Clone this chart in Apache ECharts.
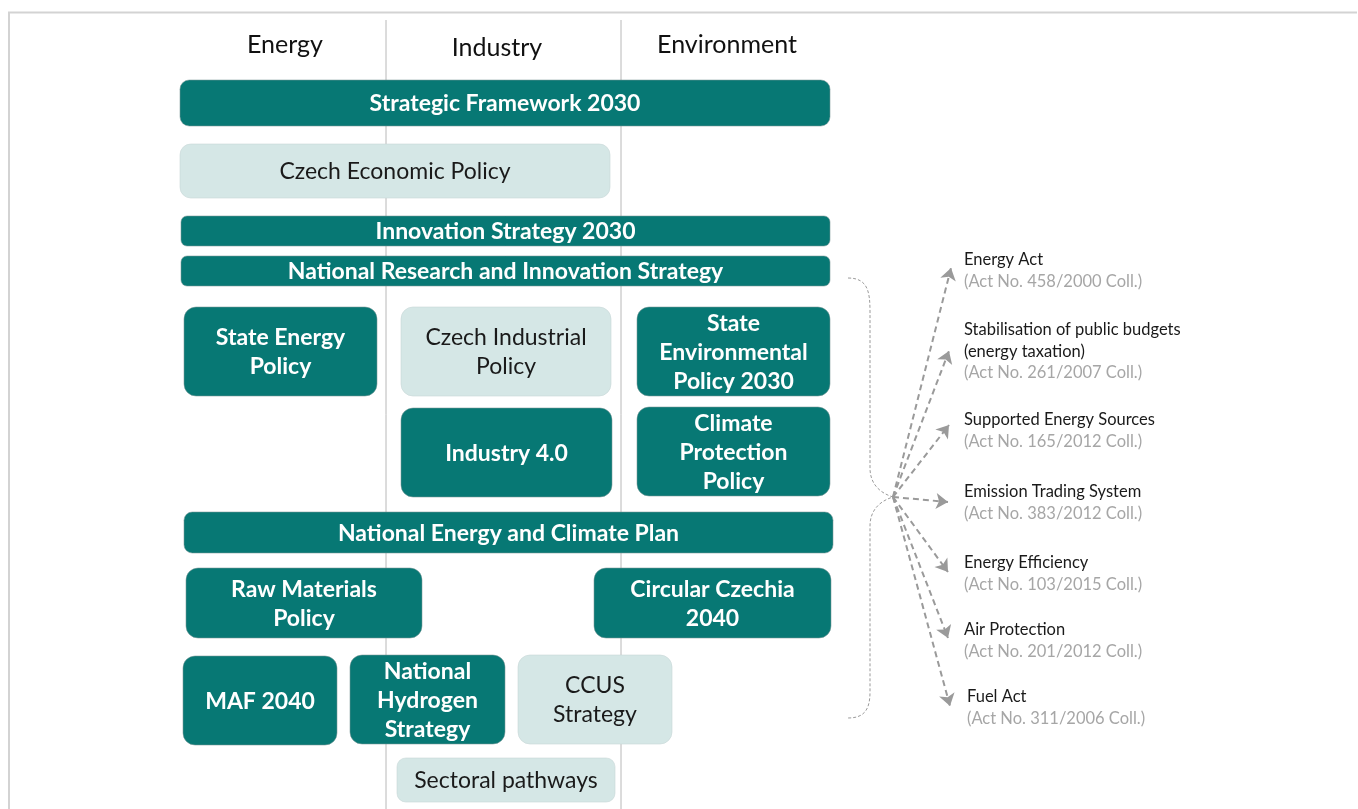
<!DOCTYPE html>
<html><head><meta charset="utf-8">
<script src="https://cdn.jsdelivr.net/npm/echarts@6/dist/echarts.min.js"></script>
<style>html,body{margin:0;padding:0;background:#fff}#c{width:1358px;height:809px}</style>
</head><body><div id="c"></div>
<script>
// ---- diagram content (axis units = page layout units) ----
const columnHeaders = ['Energy', 'Industry', 'Environment'];
const headerX = [285, 497, 727];
const headerY = [45, 48, 45];
const columnDividers = [386, 621];
const dividerTop = 20;
const dividerBottom = 809;

// outer frame (left and top edges only)
const framePoints = [[9, 809], [9, 12.5], [1357, 12.5]];

const boxLabels = [
  'Strategic Framework 2030',
  'Czech Economic Policy',
  'Innovation Strategy 2030',
  'National Research and Innovation Strategy',
  'State Energy\nPolicy',
  'Czech Industrial\nPolicy',
  'State\nEnvironmental\nPolicy 2030',
  'Industry 4.0',
  'Climate\nProtection\nPolicy',
  'National Energy and Climate Plan',
  'Raw Materials\nPolicy',
  'Circular Czechia\n2040',
  'MAF 2040',
  'National\nHydrogen\nStrategy',
  'CCUS\nStrategy',
  'Sectoral pathways'
];
const boxKinds = ['dark','light','dark','dark','dark','light','dark','dark','dark','dark','dark','dark','dark','dark','light','light'];
const boxLeft   = [180, 180, 181, 181, 184, 401, 637, 401, 637, 184, 186, 594, 183, 350, 518, 397];
const boxRight  = [830, 610, 830, 830, 377, 611, 830, 612, 830, 833, 422, 831, 337, 505, 672, 615];
const boxTop    = [ 80, 144, 216, 256, 307, 307, 307, 408, 407, 512, 568, 568, 656, 655, 655, 758];
const boxBottom = [126, 198, 246, 286, 396, 396, 396, 497, 496, 553, 638, 638, 745, 744, 744, 802];

const lawTitles = [
  'Energy Act',
  'Stabilisation of public budgets\n(energy taxation)',
  'Supported Energy Sources',
  'Emission Trading System',
  'Energy Efficiency',
  'Air Protection',
  'Fuel Act'
];
const lawActs = [
  '(Act No. 458/2000 Coll.)',
  '(Act No. 261/2007 Coll.)',
  '(Act No. 165/2012 Coll.)',
  '(Act No. 383/2012 Coll.)',
  '(Act No. 103/2015 Coll.)',
  '(Act No. 201/2012 Coll.)',
  '(Act No. 311/2006 Coll.)'
];
const lawX      = [964, 964, 964, 964, 964, 964, 967];
const lawTitleY = [260, 330, 420, 492, 563, 630, 697];
const arrowOrigin = [893, 497];
const arrowTipX = [951, 949, 949, 948, 948, 948, 950];
const arrowTipY = [268, 351, 425, 502, 572, 638, 706];

// brace: start, then cubic segments [c1, c2, end] or line ends
const braceStart = [848, 278];
const braceSegments = [
  ['C', [868, 278], [870, 292], [870, 312]],
  ['L', [870, 468]],
  ['C', [870, 484], [880, 493], [893, 497]],
  ['C', [880, 501], [870, 510], [870, 526]],
  ['L', [870, 692]],
  ['C', [870, 710], [864, 718], [848, 718]]
];

const DARK = '#077874';
const LIGHT = '#d5e7e6';
const FONT = 'Lato, "Open Sans", sans-serif';

const boxData = boxLabels.map((l, i) => [boxLeft[i], boxRight[i], boxTop[i], boxBottom[i], i]);
const headerData = columnHeaders.map((h, i) => [headerX[i], headerY[i], i]);
const dividerData = columnDividers.map((x, i) => [x, dividerTop, dividerBottom, i]);
const lawData = lawTitles.map((t, i) => [lawX[i], lawTitleY[i], i]);
const arrowData = arrowTipX.map((x, i) => ({ coords: [arrowOrigin, [x, arrowTipY[i]]] }));

const chart = echarts.init(document.getElementById('c'), null, { renderer: 'canvas' });
chart.setOption({
  animation: false,
  grid: { left: 0, top: 0, right: 0, bottom: 0 },
  xAxis: { type: 'value', min: 0, max: 1358, show: false },
  yAxis: { type: 'value', min: 0, max: 809, inverse: true, show: false },
  series: [
    {
      type: 'custom', silent: true, clip: false, z: 1,
      data: [[0]],
      renderItem: (params, api) => {
        const pts = framePoints.map(p => api.coord(p));
        return { type: 'polyline', shape: { points: pts }, style: { fill: 'none', stroke: '#d3d3d3', lineWidth: 2 } };
      }
    },
    {
      type: 'custom', silent: true, clip: false, z: 1,
      data: dividerData,
      renderItem: (params, api) => {
        const a = api.coord([api.value(0), api.value(1)]);
        const b = api.coord([api.value(0), api.value(2)]);
        return { type: 'line', shape: { x1: a[0], y1: a[1], x2: b[0], y2: b[1] }, style: { stroke: '#b8b8b8', lineWidth: 1 } };
      }
    },
    {
      type: 'custom', silent: true, clip: false, z: 2,
      data: headerData,
      renderItem: (params, api) => {
        const p = api.coord([api.value(0), api.value(1)]);
        return { type: 'text', style: { text: columnHeaders[api.value(2)], x: p[0], y: p[1], align: 'center', verticalAlign: 'middle', fontFamily: FONT, fontSize: 25, fill: '#111' } };
      }
    },
    {
      type: 'custom', silent: true, clip: false, z: 3,
      data: boxData,
      renderItem: (params, api) => {
        const i = api.value(4);
        const p0 = api.coord([api.value(0), api.value(2)]);
        const p1 = api.coord([api.value(1), api.value(3)]);
        const w = p1[0] - p0[0], h = p1[1] - p0[1];
        const dark = boxKinds[i] === 'dark';
        return {
          type: 'group',
          children: [
            { type: 'rect', shape: { x: p0[0], y: p0[1], width: w, height: h, r: Math.min(12, h * 0.2) },
              style: { fill: dark ? DARK : LIGHT, stroke: dark ? 'rgba(120,150,150,0.55)' : 'rgba(200,215,215,0.6)', lineWidth: 1 } },
            { type: 'text', style: { text: boxLabels[i], x: p0[0] + w / 2, y: p0[1] + h / 2 + 1, align: 'center', verticalAlign: 'middle',
              fontFamily: FONT, fontSize: 23, fontWeight: dark ? 'bold' : 'normal', lineHeight: 29, fill: dark ? '#ffffff' : '#1a1a1a' } }
          ]
        };
      }
    },
    {
      type: 'custom', silent: true, clip: false, z: 1,
      data: [[0]],
      renderItem: (params, api) => {
        const s = api.coord(braceStart);
        let d = 'M' + s[0] + ' ' + s[1];
        braceSegments.forEach(seg => {
          const pts = seg.slice(1).map(p => api.coord(p));
          d += ' ' + seg[0] + pts.map(p => p[0] + ' ' + p[1]).join(' ');
        });
        return { type: 'path', shape: { pathData: d }, style: { fill: 'none', stroke: '#9a9a9a', lineWidth: 1, lineDash: [3, 2] } };
      }
    },
    {
      type: 'lines', coordinateSystem: 'cartesian2d', silent: true, z: 2,
      symbol: ['none', 'arrow'], symbolSize: 12,
      lineStyle: { color: '#9a9a9a', width: 2, type: [6, 4], opacity: 1 },
      data: arrowData
    },
    {
      type: 'custom', silent: true, clip: false, z: 3,
      data: lawData,
      renderItem: (params, api) => {
        const i = api.value(2);
        const p = api.coord([api.value(0), api.value(1)]);
        const lines = lawTitles[i].split('\n').length;
        const lh = 21.5;
        return {
          type: 'group',
          children: [
            { type: 'text', style: { text: lawTitles[i], x: p[0], y: p[1] - lh / 2, align: 'left', verticalAlign: 'top', lineHeight: lh,
              fontFamily: FONT, fontSize: 16.5, fill: '#1a1a1a' } },
            { type: 'text', style: { text: lawActs[i], x: p[0], y: p[1] - lh / 2 + lines * lh, align: 'left', verticalAlign: 'top', lineHeight: lh,
              fontFamily: FONT, fontSize: 16.5, fill: '#a6a6a6' } }
          ]
        };
      }
    }
  ]
});
</script>
</body></html>
